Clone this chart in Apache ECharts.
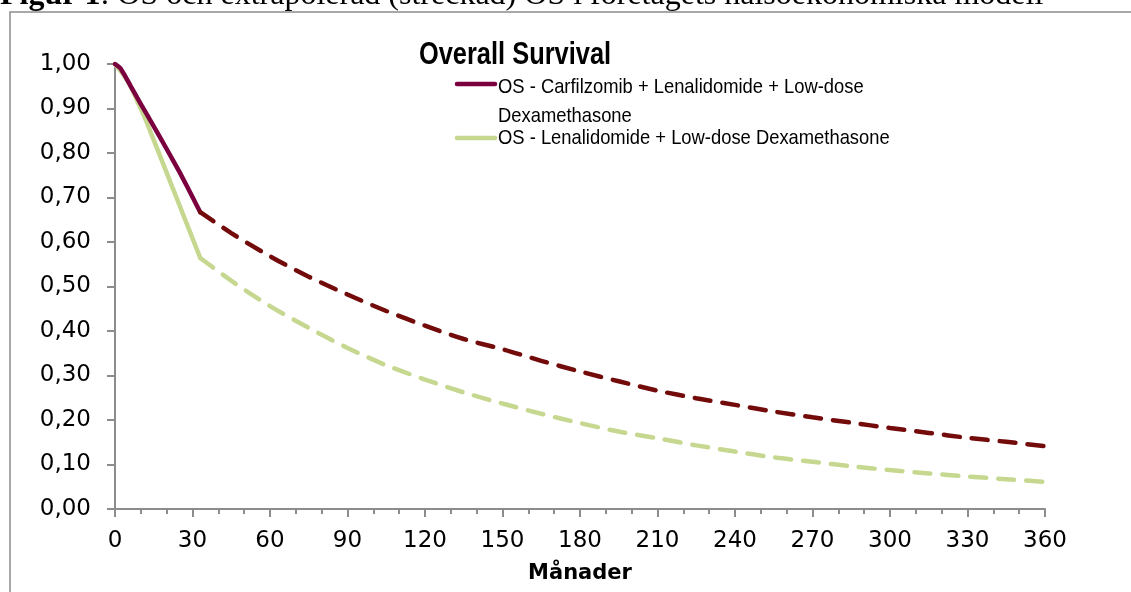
<!DOCTYPE html>
<html>
<head>
<meta charset="utf-8">
<script src="https://cdn.jsdelivr.net/npm/echarts@6/dist/echarts.min.js"></script>
<style>
html,body{margin:0;padding:0;background:#fff;}
#chart{width:1131px;height:592px;}
</style>
</head>
<body>
<div id="chart"></div>
<script>
// ---- Data ----
var seriesNames = [
  'OS - Carfilzomib + Lenalidomide + Low-dose Dexamethasone',
  'OS - Lenalidomide + Low-dose Dexamethasone'
];
var krdObsMonths = [0, 2, 4, 6, 10, 15, 20, 25, 30, 33];
var krdObserved  = [1.00, 0.991, 0.972, 0.951, 0.910, 0.860, 0.809, 0.757, 0.701, 0.667];
var rdObsMonths  = [0, 3, 6, 9, 12, 18, 25, 33];
var rdObserved   = [1.00, 0.978, 0.950, 0.912, 0.873, 0.785, 0.682, 0.564];

var monthsExtrap = [33, 45, 60, 75, 90, 105, 120, 135, 150, 165, 180, 195, 210, 225, 240, 255, 270, 285, 300, 315, 330, 345, 360];
var krdExtrap    = [0.667, 0.620, 0.568, 0.522, 0.482, 0.445, 0.412, 0.382, 0.359, 0.333, 0.309, 0.287, 0.266, 0.249, 0.234, 0.219, 0.206, 0.194, 0.182, 0.171, 0.160, 0.151, 0.141];
var rdExtrap     = [0.564, 0.513, 0.456, 0.407, 0.362, 0.323, 0.291, 0.262, 0.237, 0.214, 0.193, 0.174, 0.159, 0.143, 0.129, 0.116, 0.106, 0.096, 0.0875, 0.080, 0.073, 0.067, 0.061];

var xTicks = [0, 30, 60, 90, 120, 150, 180, 210, 240, 270, 300, 330, 360];
var yTicks = [0, 0.1, 0.2, 0.3, 0.4, 0.5, 0.6, 0.7, 0.8, 0.9, 1.0];
var captionBold = 'Figur 1';
var captionRest = ': OS och extrapolerad (streckad) OS i företagets hälsoekonomiska modell';

function pairs(xs, ys) { return xs.map(function (x, i) { return [x, ys[i]]; }); }

var tickFont = '"DejaVu Sans", sans-serif';
var sansFont = '"Liberation Sans", Arial, sans-serif';
var serifFont = '"Liberation Serif", "Times New Roman", serif';

var mctx = document.createElement('canvas').getContext('2d');
mctx.font = 'bold 32px ' + serifFont;
var boldW = mctx.measureText(captionBold).width;

var redSolid = '#7a0040', redDash = '#730b0b', green = '#c6d890';

var chart = echarts.init(document.getElementById('chart'), null, {renderer: 'canvas'});
chart.setOption({
  animation: false,
  backgroundColor: '#ffffff',
  grid: {left: 115, right: 86, top: 64, bottom: 83, containLabel: false},
  xAxis: {
    type: 'value', min: xTicks[0], max: xTicks[xTicks.length - 1], interval: 30,
    name: 'Månader', nameLocation: 'middle', nameGap: 54,
    nameTextStyle: {fontFamily: tickFont, fontWeight: 'bold', fontSize: 21, color: '#000'},
    axisLine: {show: true, onZero: false, lineStyle: {color: '#8c8c8c', width: 2}},
    axisTick: {show: true, length: 8, lineStyle: {color: '#8c8c8c', width: 2}},
    minorTick: {show: true, splitNumber: 3, length: 5, lineStyle: {color: '#8c8c8c', width: 2}},
    splitLine: {show: false},
    axisLabel: {fontFamily: tickFont, fontSize: 23, color: '#000', margin: 21}
  },
  yAxis: {
    type: 'value', min: yTicks[0], max: yTicks[yTicks.length - 1], interval: 0.1,
    axisLine: {show: true, lineStyle: {color: '#8c8c8c', width: 2}},
    axisTick: {show: true, length: 8, lineStyle: {color: '#8c8c8c', width: 2}},
    splitLine: {show: false},
    axisLabel: {
      fontFamily: tickFont, fontSize: 23, color: '#000', margin: 24,
      formatter: function (v) { return v.toFixed(2).replace('.', ','); }
    }
  },
  series: [
    {name: seriesNames[0], type: 'line', smooth: 0.15, symbol: 'none', z: 3,
     data: pairs(krdObsMonths, krdObserved),
     lineStyle: {color: redSolid, width: 4.5, cap: 'round', join: 'round'}},
    {name: seriesNames[1], type: 'line', smooth: 0.15, symbol: 'none', z: 2,
     data: pairs(rdObsMonths, rdObserved),
     lineStyle: {color: green, width: 4.5, cap: 'round', join: 'round'}},
    {name: seriesNames[0] + ' (extrapolerad)', type: 'line', smooth: 0.3, symbol: 'none', z: 3,
     data: pairs(monthsExtrap, krdExtrap),
     lineStyle: {color: redDash, width: 4.5, type: [16, 12], cap: 'round'}},
    {name: seriesNames[1] + ' (extrapolerad)', type: 'line', smooth: 0.3, symbol: 'none', z: 2,
     data: pairs(monthsExtrap, rdExtrap),
     lineStyle: {color: green, width: 4.5, type: [16, 12], cap: 'round'}}
  ],
  graphic: [
    // caption (partially cut off at top)
    {type: 'text', x: 0, y: -4, z: 10,
     style: {text: captionBold, font: 'bold 32px ' + serifFont, fill: '#000', verticalAlign: 'middle'}},
    {type: 'text', x: boldW, y: -4, z: 10,
     style: {text: captionRest, font: '32px ' + serifFont, fill: '#000', verticalAlign: 'middle'}},
    // chart frame
    {type: 'rect', shape: {x: 10, y: 12, width: 1300, height: 800}, z: -1,
     style: {fill: 'none', stroke: '#8c8c8c', lineWidth: 1.5}},
    // title
    {type: 'text', x: 515, y: 55, scaleX: 0.82, z: 10,
     style: {text: 'Overall Survival', font: 'bold 31px ' + sansFont, fill: '#000', align: 'center', verticalAlign: 'middle'}},
    // legend
    {type: 'line', shape: {x1: 457, y1: 84, x2: 495, y2: 84}, z: 10,
     style: {stroke: redSolid, lineWidth: 4.5, lineCap: 'round'}},
    {type: 'text', x: 498, y: 87, scaleX: 0.875, z: 10,
     style: {text: 'OS - Carfilzomib + Lenalidomide + Low-dose', font: '21px ' + sansFont, fill: '#000', verticalAlign: 'middle'}},
    {type: 'text', x: 498, y: 116, scaleX: 0.875, z: 10,
     style: {text: 'Dexamethasone', font: '21px ' + sansFont, fill: '#000', verticalAlign: 'middle'}},
    {type: 'line', shape: {x1: 457, y1: 138, x2: 495, y2: 138}, z: 10,
     style: {stroke: green, lineWidth: 4.5, lineCap: 'round'}},
    {type: 'text', x: 498, y: 138, scaleX: 0.875, z: 10,
     style: {text: 'OS - Lenalidomide + Low-dose Dexamethasone', font: '21px ' + sansFont, fill: '#000', verticalAlign: 'middle'}}
  ]
});
</script>
</body>
</html>
